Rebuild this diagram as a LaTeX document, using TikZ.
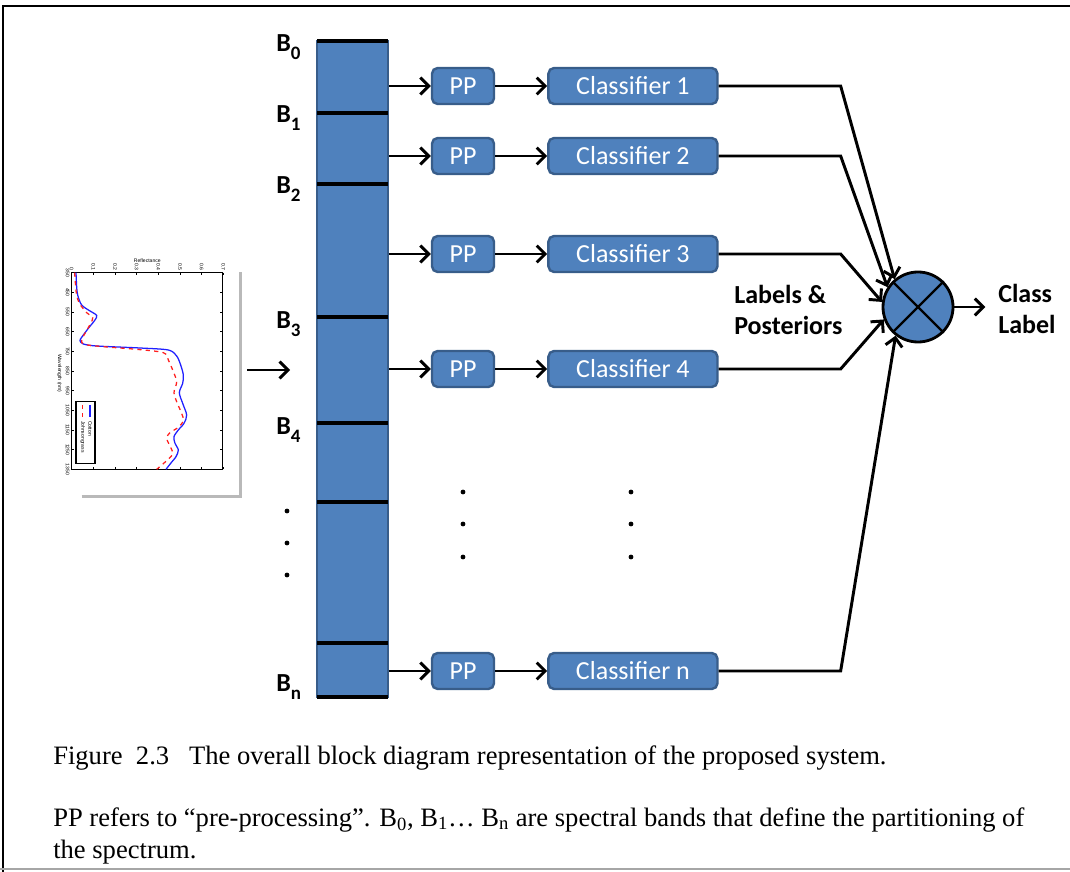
\documentclass[tikz,border=0pt]{standalone}
\usepackage{fontspec}
\setmainfont{Liberation Serif}
\newfontfamily\carlito{Carlito}
\newfontfamily\plotfont{Liberation Sans}
\usetikzlibrary{arrows.meta, positioning, calc}

\definecolor{boxblue}{HTML}{4F81BD}
\definecolor{boxedge}{HTML}{385D8A}
\definecolor{cottonblue}{HTML}{1F1FFF}
\definecolor{grassred}{HTML}{FF1F1F}

\newcommand{\bandlbl}[1]{B\raisebox{-0.32em}{\fontsize{13.5}{14}\selectfont #1}}

\begin{document}
\begin{tikzpicture}[
        x=0.025cm, y=-0.025cm,
        font=\carlito\fontsize{18.5}{22}\selectfont,
        arr/.style = {line width=2.1pt, -{Straight Barb[length=6pt, width=12pt, line width=2.1pt]}},
        wire/.style = {line width=2.1pt},
        block/.style = {
            draw=boxedge,
            fill=boxblue,
            line width=1.7pt,
            rectangle,
            rounded corners=4pt,
            text=white,
            minimum height=0.9cm,
            inner sep=0pt
        },
        ppbox/.style = {block, minimum width=1.55cm},
        clsbox/.style = {block, minimum width=4.225cm},
        band/.style = {font=\carlito\bfseries\fontsize{18.5}{22}\selectfont, anchor=west, inner sep=0pt},
        bold_lbl/.style = {font=\carlito\bfseries\fontsize{18.5}{22}\selectfont, align=left, anchor=west, inner sep=0pt},
        dotmark/.style = {circle, fill=black, inner sep=0pt, minimum size=3.4pt},
        caption/.style = {font=\rmfamily\fontsize{18.9}{22}\selectfont, anchor=base west, inner sep=0pt}
    ]

    \useasboundingbox (0,0) rectangle (1070,872);

    % page frame
    \draw[line width=2pt] (3,872) -- (3,6) -- (1070,6);
    \draw[gray!70, line width=1.4pt] (0,869) -- (1070,869);

    % spectrum plot (drawn in its own small frame)
    \begin{scope}[shift={(40,250)}, scale=1/3, font=\plotfont\fontsize{3.6}{4}\selectfont]
        \draw[gray!55, line width=2.6pt] (125,739) -- (601,739) -- (601,66);
        \draw[line width=0.8pt] (95,68) rectangle (548,658);
        \foreach \k/\r in {0/0, 1/0.1, 2/0.2, 3/0.3, 4/0.4, 5/0.5, 6/0.6, 7/0.7} {
            \draw[line width=0.4pt] (95+65*\k,68) -- ++(0,7);
            \draw[line width=0.4pt] (95+65*\k,658) -- ++(0,-7);
            \node[rotate=-90, anchor=east, inner sep=1pt] at (95+65*\k,66) {\r};
        }
        \foreach \k/\w in {0/350, 1/450, 2/550, 3/650, 4/750, 5/850, 6/950, 7/1050, 8/1150, 9/1250, 10/1350} {
            \draw[line width=0.4pt] (95,68+59*\k) -- ++(7,0);
            \draw[line width=0.4pt] (548,68+59*\k) -- ++(-7,0);
            \node[rotate=-90, anchor=north, inner sep=1pt] at (93,68+59*\k) {\w};
        }
        \node at (322,33) {Reflectance};
        \node[rotate=-90] at (58,370) {Wavelength (nm)};
        \draw[cottonblue, line width=0.9pt] plot[smooth, tension=0.5] coordinates {
            (108,68) (110,110) (113,135) (125,165) (150,183) (170,196) (165,210)
            (145,235) (125,262) (120,272) (130,282) (170,288) (300,294) (385,300)
            (410,318) (422,345) (430,375) (428,400) (418,428) (428,460) (440,495)
            (432,520) (415,540) (402,560) (405,580) (415,600) (408,620) (392,640) (378,658)};
        \draw[grassred, line width=0.9pt, dashed] plot[smooth, tension=0.5] coordinates {
            (104,68) (107,110) (110,135) (118,160) (140,188) (158,203) (152,220)
            (135,250) (125,270) (132,283) (190,290) (290,298) (370,308) (385,330)
            (398,360) (410,395) (402,428) (412,460) (425,490) (430,512) (415,532)
            (390,548) (380,565) (392,592) (398,612) (380,632) (350,658)};
        \draw[line width=0.9pt, fill=white] (108,455) rectangle (165,640);
        \draw[cottonblue, line width=0.9pt] (150,465) -- (150,500);
        \draw[grassred, line width=0.9pt, dashed] (128,465) -- (128,500);
        \node[rotate=-90, anchor=west, inner sep=1pt] at (150,508) {Cotton};
        \node[rotate=-90, anchor=west, inner sep=1pt] at (128,508) {Johnsongrass};
    \end{scope}

    % spectrum split into bands
    \node[draw=boxedge, fill=boxblue, line width=1.4pt, minimum width=1.775cm, minimum height=16.4cm, inner sep=0pt] (bar) at (352.5,369) {};
    \foreach \y in {41,113,184,317,423,502,643,697}
        \draw[line width=2.4pt] (317,\y) -- (388,\y);

    \node[band] (b0) at (276,47) {\bandlbl{0}};
    \node[band] (b1) at (276,118) {\bandlbl{1}};
    \node[band] (b2) at (276,189) {\bandlbl{2}};
    \node[band] (b3) at (276,324) {\bandlbl{3}};
    \node[band] (b4) at (276,430) {\bandlbl{4}};
    \node[band] (bn) at (276,687) {\bandlbl{n}};
    \foreach \y in {511,543,575}
        \node[dotmark] at (287,\y) {};

    \coordinate (spec) at (247,370);
    \coordinate (bandin) at (290,370);
    \draw[arr] (spec) -- (bandin);

    % one chain per band
    \foreach \i/\y in {1/86, 2/156, 3/254, 4/369, n/671} {
        \node[ppbox] (pp\i) at (463,\y) {PP};
        \node[clsbox, right=1.3cm of pp\i] (cls\i) {Classifier \i};
        \draw[arr] (bar.east |- pp\i) -- (pp\i);
        \draw[arr] (pp\i) -- (cls\i);
    }

    \foreach \x in {463,631}
        \foreach \y in {492,524,557}
            \node[dotmark] at (\x,\y) {};

    % combiner
    \node[circle, draw=black, fill=boxblue, line width=2pt, minimum size=1.75cm, inner sep=0pt] (comb) at (918,307) {};
    \draw[line width=1.7pt] (comb.45) -- (comb.225);
    \draw[line width=1.7pt] (comb.135) -- (comb.-45);

    \draw[arr] (cls1.east) -- ++(122,0) -- (comb.130);
    \draw[arr] (cls2.east) -- ++(122,0) -- (comb.147);
    \draw[arr] (cls3.east) -- ++(122,0) -- (comb.172);
    \draw[arr] (cls4.east) -- ++(122,0) -- (comb.200);
    \draw[arr] (clsn.east) -- ++(122,0) -- (comb.232);

    \node[bold_lbl] (post) at (734,310) {Labels \&\\Posteriors};
    \node[bold_lbl] (out) at (998,309) {Class\\Label};
    \draw[arr, shorten >=9pt] (comb.east) -- (out.west |- comb.east);

    % caption
    \node[caption] (cap1) at (53,764) {Figure\ \ 2.3\ \ \ The overall block diagram representation of the proposed system.};
    \node[caption] (cap2) at (53,826) {PP refers to “pre-processing”. B\textsubscript{0}, B\textsubscript{1}… B\textsubscript{n} are spectral bands that define the partitioning of};
    \node[caption] (cap3) at (53,858) {the spectrum.};

\end{tikzpicture}
\end{document}
